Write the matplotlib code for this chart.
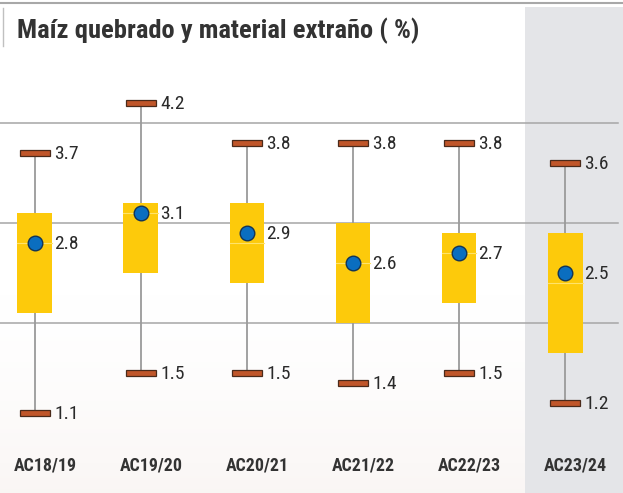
import numpy as np
import matplotlib
matplotlib.use("Agg")
import matplotlib.pyplot as plt
from matplotlib import font_manager

# Datos
campanas = ["AC18/19", "AC19/20", "AC20/21", "AC21/22", "AC22/23", "AC23/24"]
minimo = [1.1, 1.5, 1.5, 1.4, 1.5, 1.2]
maximo = [3.7, 4.2, 3.8, 3.8, 3.8, 3.6]
q_inf = [2.1, 2.5, 2.4, 2.0, 2.2, 1.7]
q_sup = [3.1, 3.2, 3.2, 3.0, 2.9, 2.9]
mediana = [2.8, 3.1, 2.8, 2.6, 2.7, 2.4]
promedio = [2.8, 3.1, 2.9, 2.6, 2.7, 2.5]

nombres = {f.name for f in font_manager.fontManager.ttflist}
narrow = "DejaVu Sans"
for cand in ["Liberation Sans Narrow", "Arial Narrow", "Roboto Condensed", "Open Sans Condensed"]:
    if cand in nombres:
        narrow = cand
        break
estirar = "condensed" if narrow == "DejaVu Sans" else "normal"

fig = plt.figure(figsize=(6.23, 4.93), dpi=100)
ax = fig.add_axes([0, 0, 1, 1])
ax.set_xlim(-0.330, 5.547)
ax.set_ylim(0.30, 5.23)
ax.axis("off")

# fondo: degradado suave abajo
grad = np.linspace(0, 1, 200).reshape(-1, 1)
grad = np.clip((grad - 0.6) / 0.4, 0, 1) ** 1.5
img = np.ones((200, 1, 4))
img[..., 0] = 1 - 0.02 * grad
img[..., 1] = 1 - 0.035 * grad
img[..., 2] = 1 - 0.04 * grad
ax.imshow(img, extent=(-0.330, 5.547, 0.30, 5.23), aspect="auto", zorder=0)

# columna sombreada de la ultima campana
ax.axvspan(4.623, 5.547, ymin=0, ymax=1 - 7 / 493, color="#E4E5E8", zorder=1, lw=0)

# lineas de marco
ax.plot([-0.330, 5.547], [5.20, 5.20], color="#A8A8A8", lw=1.5, zorder=2, clip_on=False)
ax.plot([-0.302, -0.302], [4.77, 5.15], color="#C0C0C0", lw=1, zorder=2)

# cuadricula
for g in [2, 3, 4]:
    ax.plot([-0.330, 5.50], [g, g], color="#A6A6A6", lw=1.1, zorder=2)

titulo = ax.text(-0.17, 4.925, "Maíz quebrado y material extraño ( %)", fontsize=18,
                 fontweight="bold", color="#333333", family=narrow, stretch=estirar,
                 va="center", ha="left", zorder=6)

x = np.arange(len(campanas))
ancho = 0.33
cap = 0.283
etiquetas = []
for i in x:
    ax.plot([i, i], [minimo[i], maximo[i]], color="#9A9A9A", lw=1.3, zorder=3)
    ax.bar(i, q_sup[i] - q_inf[i], bottom=q_inf[i], width=ancho, color="#FDCA0B", zorder=4)
    ax.plot([i - ancho / 2, i + ancho / 2], [mediana[i], mediana[i]], color="#FFE36A",
            lw=0.8, zorder=4)
    for v in (minimo[i], maximo[i]):
        ax.bar(i, 0.06, bottom=v - 0.03, width=cap, color="#C0562A",
               edgecolor="#4A2A1A", lw=0.9, zorder=5)
        ax.text(i + 0.18, v - 0.01, f"{v:.1f}", fontsize=14, family=narrow, stretch=estirar,
                color="#2A2A2A", va="center", ha="left", zorder=6)
    ax.plot(i, promedio[i], "o", ms=10.5, color="#0A6EC0", mec="#123456", mew=1, zorder=6)
    ax.text(i + 0.18, promedio[i] - 0.01, f"{promedio[i]:.1f}", fontsize=14, family=narrow,
            stretch=estirar, color="#2A2A2A", va="center", ha="left", zorder=6)
    etiquetas.append(ax.text(i + 0.1, 0.58, campanas[i], fontsize=10.5, fontweight="bold",
                             family=narrow, stretch=estirar, color="#333333",
                             ha="center", va="center", zorder=6))

# ajustar tamanos de texto al ancho medido en la referencia
fig.canvas.draw()
r = fig.canvas.get_renderer()
w = titulo.get_window_extent(r).width
titulo.set_fontsize(18 * 401 / w)
w = etiquetas[0].get_window_extent(r).width
for t in etiquetas:
    t.set_fontsize(10.5 * 63 / w)

fig.savefig("out.png", dpi=100)
